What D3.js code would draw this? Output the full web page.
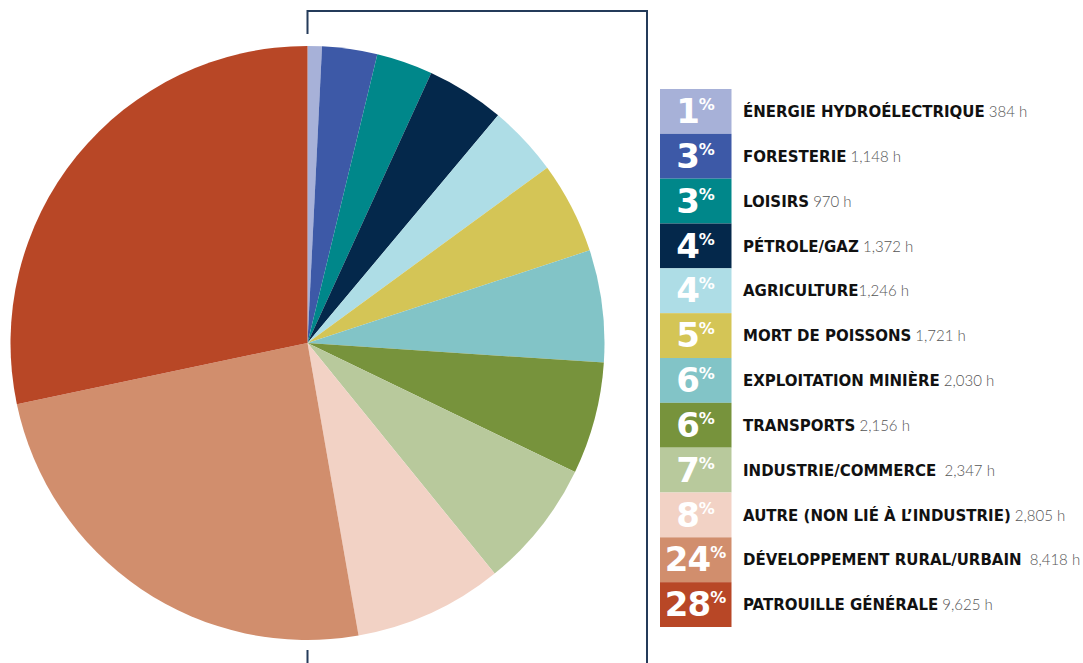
<!DOCTYPE html>
<html><head><meta charset="utf-8">
<script src="https://cdn.jsdelivr.net/npm/d3@7"></script>
<style>body{margin:0;background:#fff}svg{display:block}</style>
</head><body>
<svg id="c" width="1083" height="663"></svg>
<script>
const categories = ["ÉNERGIE HYDROÉLECTRIQUE","FORESTERIE","LOISIRS","PÉTROLE/GAZ","AGRICULTURE","MORT DE POISSONS","EXPLOITATION MINIÈRE","TRANSPORTS","INDUSTRIE/COMMERCE","AUTRE (NON LIÉ À L’INDUSTRIE)","DÉVELOPPEMENT RURAL/URBAIN","PATROUILLE GÉNÉRALE"];
const hourLabels = ["384 h","1,148 h","970 h","1,372 h","1,246 h","1,721 h","2,030 h","2,156 h","2,347 h","2,805 h","8,418 h","9,625 h"];
const labelGaps = [" "," "," "," ",""," "," "," "," \u00A0"," "," \u00A0"," "];
const percents = [1,3,3,4,4,5,6,6,7,8,24,28];
// slice shares as drawn in the picture (percent of the circle)
const sliceShares = [0.78,3.0,3.06,4.25,3.86,5.0,6.1,6.1,7.0,8.1,24.45,28.3];
const colors = ["#a7b1d8","#3d59a7","#00878a","#04284b","#aedde6","#d4c556","#82c4c7","#77933c","#b8c99c","#f2d2c5","#d18e6d","#b84726"];

const svg = d3.select("#c");
const cx = 307.5, cy = 343, R = 297;

// frame lines
const fc = "#243b5a";
svg.append("path").attr("d",`M${cx},34 V11 H647 V663`).attr("fill","none").attr("stroke",fc).attr("stroke-width",2);
svg.append("path").attr("d",`M${cx},650 V663`).attr("fill","none").attr("stroke",fc).attr("stroke-width",2);

const pie = d3.pie().sort(null).value(d=>d);
const arc = d3.arc().innerRadius(0).outerRadius(R);
const color = d3.scaleOrdinal().domain(categories).range(colors);
svg.append("g").attr("transform",`translate(${cx},${cy})`)
  .selectAll("path").data(pie(sliceShares)).join("path")
  .attr("d",arc).attr("fill",(d,i)=>color(categories[i]));

// legend
const y = d3.scaleBand().domain(categories).range([89,627]).padding(0);
const lg = svg.append("g");
const rows = lg.selectAll("g").data(categories).join("g").attr("transform",d=>`translate(0,${y(d)})`);
rows.append("rect").attr("x",660).attr("width",71.5).attr("height",y.bandwidth()).attr("fill",d=>color(d));
const pt = rows.append("text").attr("x",695.5).attr("y",34).attr("text-anchor","middle")
  .attr("fill","#fff").attr("font-family","'DejaVu Sans', sans-serif").attr("font-weight",700);
pt.append("tspan").attr("font-size",34).attr("letter-spacing",-1).text((d,i)=>percents[i]);
pt.append("tspan").attr("font-size",16).attr("dy",-13).text("%");
const lt = rows.append("text").attr("x",743).attr("y",28).attr("font-family","'DejaVu Sans', sans-serif");
lt.append("tspan").attr("font-weight",700).attr("font-size",15).attr("fill","#111").text(d=>d);
lt.append("tspan").attr("font-family","Lato, sans-serif").attr("font-weight",300).attr("font-size",15).attr("fill","#555").text((d,i)=>labelGaps[i]+hourLabels[i]);
</script>
</body></html>
